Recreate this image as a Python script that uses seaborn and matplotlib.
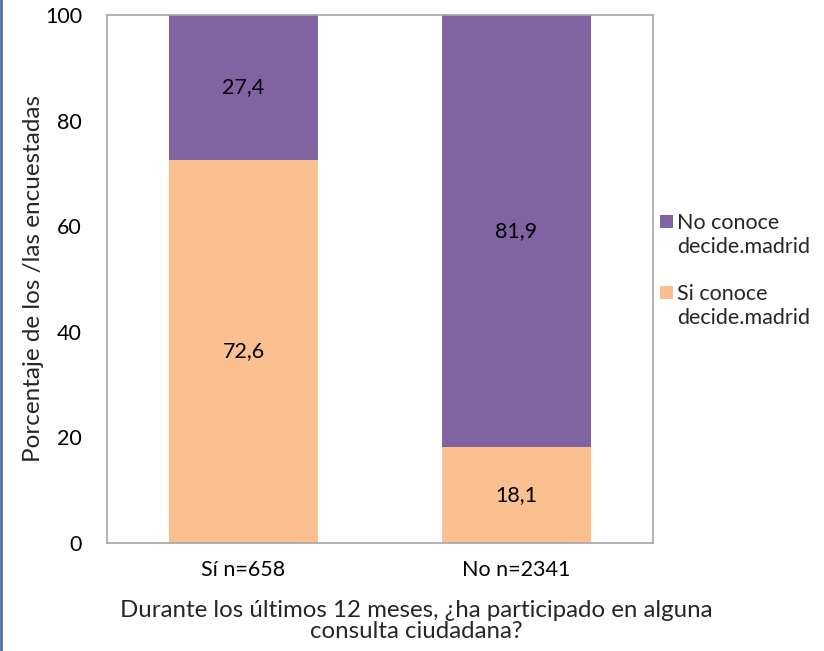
import numpy as np
import pandas as pd
import seaborn as sns
import matplotlib.pyplot as plt
from matplotlib.patches import Patch
from matplotlib.lines import Line2D

categories = ["Sí n=658", "No n=2341"]
si_conoce = [72.6, 18.1]
no_conoce = [27.4, 81.9]
legend_labels = ["No conoce", "decide.madrid", " ", "Si conoce", "decide.madrid"]
yticks = [0, 20, 40, 60, 80, 100]

purple = "#8064A2"
orange = "#FAC090"

sns.set_theme(style="white")
plt.rcParams['font.family'] = ['Lato', 'DejaVu Sans']

df = pd.DataFrame({"cat": categories, "si": si_conoce, "no": no_conoce})
df["total"] = df["si"] + df["no"]

fig = plt.figure(figsize=(8.24, 6.51), dpi=100)
ax = fig.add_axes([107 / 824, 108 / 651, 546 / 824, 528 / 651])

# stacked: draw total (purple) then the lower segment (orange) on top
sns.barplot(data=df, x="cat", y="total", color=purple, width=0.545,
            saturation=1, ax=ax, linewidth=0)
sns.barplot(data=df, x="cat", y="si", color=orange, width=0.545,
            saturation=1, ax=ax, linewidth=0)

for i, row in df.iterrows():
    ax.text(i, row["si"] / 2, f"{row['si']:.1f}".replace(".", ","),
            ha="center", va="center", fontsize=15.5, color="black")
    ax.text(i, row["si"] + row["no"] / 2, f"{row['no']:.1f}".replace(".", ","),
            ha="center", va="center", fontsize=15.5, color="black")

ax.set_ylim(0, 100)
ax.set_yticks(yticks)
ax.set_xlim(-0.5, 1.5)
ax.tick_params(axis="both", length=0, labelsize=15.5, colors="black")
ax.tick_params(axis="x", pad=12)
ax.tick_params(axis="y", pad=18)
ax.set_xlabel("")
ax.set_ylabel("Porcentaje de los /las encuestadas", fontsize=17.5)
ax.yaxis.set_label_coords((44 - 107) / 546, 0.5)
for s in ax.spines.values():
    s.set_color("#A6A6A6")
    s.set_linewidth(1.2)

fig.text(416 / 824, 1 - 621 / 651,
         "Durante los últimos 12 meses, ¿ha participado en alguna\nconsulta ciudadana?",
         ha="center", va="center", fontsize=17.3, linespacing=1.05)

blank = Patch(facecolor="none", edgecolor="none")
handles = [Patch(facecolor=purple, edgecolor="none"), blank, blank,
           Patch(facecolor=orange, edgecolor="none"), blank]
fig.legend(handles, legend_labels, loc="upper left",
           bbox_to_anchor=(660 / 824, 1 - 213 / 651), frameon=False,
           fontsize=15.5, handlelength=0.6, handleheight=0.6,
           handletextpad=0.2, labelspacing=0.17, borderaxespad=0,
           borderpad=0)

# left border line like the source screenshot
fig.add_artist(Line2D([0.001, 0.001], [0, 1], color="#4F6FA8", lw=2,
                      transform=fig.transFigure))

fig.savefig("out.png", dpi=100)
